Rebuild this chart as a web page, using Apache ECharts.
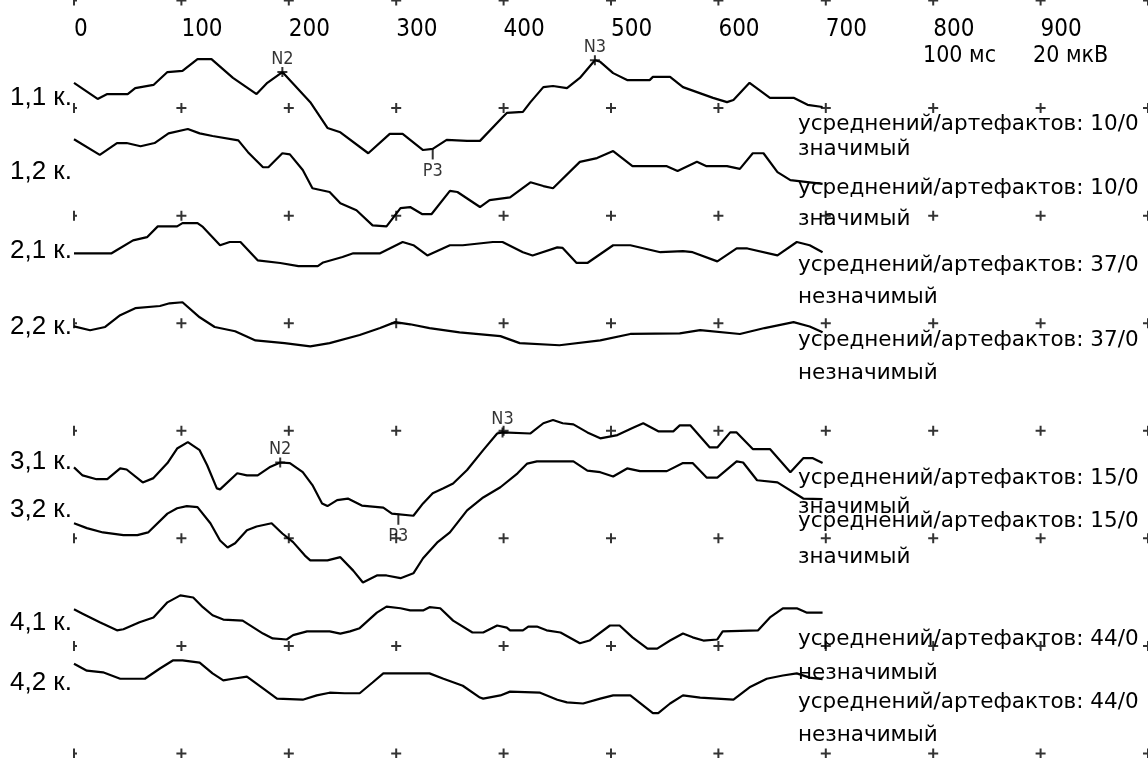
<!DOCTYPE html>
<html>
<head>
<meta charset="utf-8">
<title>ВП</title>
<script src="https://cdn.jsdelivr.net/npm/echarts@6/dist/echarts.min.js"></script>
<style>
  body { margin: 0; background: #fff; }
  #main { width: 1148px; height: 758px; }
</style>
</head>
<body>
<div id="main"></div>
<script>
// time axis, ms
var xTicks = [0, 100, 200, 300, 400, 500, 600, 700, 800, 900];
// each grid cell = 100 ms x 20 uV
var yTicks = [0, 20, 40, 60, 80, 100, 120, 140];

var channelNames = ['1,1 к.', '1,2 к.', '2,1 к.', '2,2 к.', '3,1 к.', '3,2 к.', '4,1 к.', '4,2 к.'];
// baseline of each trace on the uV axis
var channelOffsets = [122, 108, 93, 79, 54, 45, 24, 13];
var averages = ['10/0', '10/0', '37/0', '37/0', '15/0', '15/0', '44/0', '44/0'];
var verdicts = ['значимый', 'значимый', 'незначимый', 'незначимый', 'значимый', 'значимый', 'незначимый', 'незначимый'];

// [ms, uV]
var ch11 = [[0,2.7],[22,-0.3],[31,0.6],[50,0.6],[57,1.7],[74,2.3],[87,4.7],[101,4.9],[115,7.1],[128,7.1],[148,3.6],[170,0.6],[180,2.7],[194,4.7],[220,-0.9],[236,-5.7],[248,-6.5],[274,-10.4],[294,-6.8],[306,-6.8],[325,-9.8],[334,-9.6],[347,-7.9],[366,-8.1],[378,-8.1],[399,-3.7],[403,-2.9],[418,-2.7],[425,-0.9],[437,1.9],[446,2.1],[459,1.7],[471,3.6],[485,6.9],[490,6.6],[502,4.5],[515,3.2],[536,3.2],[539,3.8],[555,3.8],[567,1.9],[595,-0.1],[608,-0.9],[614,-0.5],[629,2.7],[648,-0.1],[670,-0.1],[683,-1.4],[697,-1.8]];
var ch12 = [[0,6.2],[24,3.3],[40,5.5],[49,5.5],[62,4.9],[75,5.5],[88,7.3],[106,8.1],[117,7.3],[129,6.8],[153,6.0],[162,3.8],[176,1.0],[181,1.0],[194,3.6],[201,3.4],[213,0.5],[222,-2.9],[238,-3.6],[248,-5.7],[263,-7.0],[278,-9.8],[291,-10.0],[304,-6.6],[313,-6.4],[324,-7.7],[333,-7.7],[350,-3.4],[357,-3.6],[378,-6.4],[387,-5.1],[406,-4.6],[425,-1.8],[437,-2.5],[446,-2.9],[471,2.0],[487,2.7],[502,4.0],[520,1.2],[552,1.2],[562,0.3],[580,2.0],[589,1.2],[608,1.2],[620,0.7],[632,3.6],[642,3.6],[655,0.1],[667,-1.4],[697,-2.1]];
var ch21 = [[0,0.0],[35,0.0],[40,0.6],[55,2.4],[68,3.0],[78,5.0],[96,5.0],[101,5.6],[115,5.6],[120,4.9],[136,1.5],[145,2.1],[155,2.1],[171,-1.3],[192,-1.8],[209,-2.4],[227,-2.4],[232,-1.7],[250,-0.7],[260,0.0],[285,0.0],[306,2.1],[316,1.5],[329,-0.4],[350,1.5],[362,1.5],[390,2.1],[399,2.1],[418,0.2],[427,-0.4],[450,1.1],[455,1.0],[468,-1.8],[478,-1.8],[502,1.5],[518,1.5],[546,0.2],[567,0.4],[576,0.2],[599,-1.5],[617,0.9],[627,0.9],[655,-0.4],[673,2.1],[685,1.5],[697,0.2]];
var ch22 = [[0,0.4],[15,-0.3],[29,0.3],[43,2.5],[57,3.8],[80,4.2],[89,4.7],[101,4.9],[117,2.1],[131,0.3],[150,-0.5],[169,-2.2],[196,-2.7],[220,-3.3],[238,-2.7],[266,-1.2],[285,0.1],[299,1.2],[313,0.8],[331,0.1],[359,-0.7],[397,-1.4],[415,-2.7],[452,-3.1],[490,-2.2],[518,-1.0],[564,-0.9],[583,-0.3],[620,-1.0],[643,0.1],[670,1.2],[685,0.4],[697,-0.7]];
var ch31 = [[0,-0.8],[8,-2.3],[21,-3.0],[31,-3.0],[43,-1.0],[49,-1.2],[64,-3.6],[74,-2.8],[87,0.0],[96,2.7],[106,3.9],[117,2.4],[124,-0.4],[133,-4.7],[136,-4.9],[152,-1.9],[161,-2.3],[171,-2.3],[182,-0.8],[192,0.1],[201,0.0],[213,-1.7],[222,-4.1],[231,-7.5],[236,-8.0],[245,-6.9],[255,-6.6],[268,-7.9],[288,-8.3],[296,-9.4],[316,-9.8],[325,-7.5],[334,-5.6],[344,-4.7],[353,-3.8],[366,-1.3],[381,2.4],[394,5.5],[399,5.7],[425,5.5],[437,7.4],[446,8.0],[455,7.4],[465,7.2],[478,5.7],[490,4.6],[506,5.2],[521,6.6],[530,7.4],[544,5.9],[558,5.9],[564,7.0],[574,7.0],[592,2.9],[599,2.9],[611,5.7],[617,5.7],[632,2.6],[648,2.6],[667,-1.7],[679,0.9],[688,0.9],[697,0.0]];
var ch32 = [[0,-2.2],[12,-3.1],[27,-3.9],[46,-4.4],[59,-4.4],[69,-3.9],[87,-0.4],[96,0.6],[105,1.0],[115,0.8],[127,-2.2],[136,-5.4],[143,-6.7],[150,-5.9],[161,-3.5],[170,-2.8],[184,-2.2],[194,-4.1],[204,-5.7],[215,-8.2],[220,-9.1],[236,-9.1],[248,-8.5],[260,-11.0],[269,-13.2],[282,-11.9],[291,-11.9],[304,-12.4],[316,-11.5],[325,-8.7],[338,-5.8],[350,-3.9],[366,0.2],[381,2.6],[397,4.5],[413,7.1],[422,8.9],[431,9.3],[465,9.3],[478,7.6],[490,7.3],[502,6.5],[515,8.0],[527,7.5],[552,7.5],[567,9.0],[576,9.0],[589,6.3],[599,6.3],[617,9.3],[623,9.1],[636,5.8],[655,5.4],[679,2.4],[697,2.3]];
var ch41 = [[0,2.8],[8,2.0],[24,0.4],[40,-1.1],[46,-0.9],[61,0.4],[74,1.3],[87,4.1],[99,5.4],[111,5.0],[120,3.2],[129,1.7],[139,0.9],[157,0.7],[176,-1.7],[185,-2.6],[198,-2.8],[204,-2.0],[217,-1.3],[238,-1.3],[248,-1.7],[257,-1.3],[266,-0.7],[282,2.2],[291,3.3],[304,3.0],[313,2.6],[325,2.6],[331,3.2],[341,3.0],[353,0.7],[371,-1.5],[381,-1.5],[394,-0.2],[403,-0.6],[406,-1.1],[418,-1.1],[423,-0.4],[431,-0.4],[440,-1.1],[453,-1.5],[471,-3.5],[480,-3.0],[499,-0.2],[508,-0.2],[520,-2.4],[534,-4.5],[543,-4.5],[555,-3.0],[567,-1.7],[576,-2.4],[586,-3.0],[599,-2.8],[604,-1.3],[637,-1.1],[648,1.3],[660,3.0],[673,3.0],[682,2.2],[697,2.2]];
var ch42 = [[0,3.7],[12,2.4],[27,2.1],[43,0.9],[66,0.9],[80,2.8],[92,4.3],[101,4.3],[117,3.9],[129,1.9],[139,0.6],[148,0.9],[161,1.3],[176,-0.9],[189,-2.8],[213,-3.0],[226,-2.2],[238,-1.7],[252,-1.8],[266,-1.8],[278,0.2],[288,1.9],[316,1.9],[331,1.9],[344,0.9],[362,-0.4],[378,-2.6],[381,-2.8],[397,-2.2],[406,-1.5],[434,-1.7],[450,-3.0],[459,-3.5],[474,-3.7],[490,-2.8],[502,-2.2],[518,-2.2],[539,-5.5],[544,-5.5],[555,-3.7],[567,-2.2],[583,-2.6],[614,-3.0],[629,-0.7],[645,0.9],[660,1.5],[673,1.9],[685,1.1],[697,0.8]];
var channels = [ch11, ch12, ch21, ch22, ch31, ch32, ch41, ch42];

// peak marks: channel index, latency ms, name
var peakChannel = [0, 0, 0, 4, 4, 4];
var peakLatency = [194, 334, 485, 192, 302, 399];
var peakName = ['N2', 'P3', 'N3', 'N2', 'P3', 'N3'];

// layout of the side texts (pixel rows)
var labelRows = [98, 172, 251, 327, 462, 510, 623, 683];
var noteRows = [[124, 149], [188, 219], [265, 297], [340, 373], [478, 507], [521, 557], [639, 673], [702, 735]];

function valueAt(trace, ms) {
  for (var i = 1; i < trace.length; i++) {
    if (trace[i][0] >= ms) {
      var a = trace[i - 1], b = trace[i];
      var t = (ms - a[0]) / (b[0] - a[0] || 1);
      return a[1] + t * (b[1] - a[1]);
    }
  }
  return trace[trace.length - 1][1];
}

var plusPath = 'path://M0,4H10V6H0Z M4,0H6V10H4Z';
var halfPlusPath = 'path://M0,0H2V10H0Z M0,4H4V6H0Z';

var gridMarks = [], edgeMarks = [];
xTicks.concat([1000]).forEach(function (x) {
  yTicks.forEach(function (y) {
    if (x === 0) edgeMarks.push([x, y]); else gridMarks.push([x, y]);
  });
});

var series = [];
channels.forEach(function (trace, i) {
  series.push({
    type: 'line',
    data: trace.map(function (p) { return [p[0], channelOffsets[i] + p[1]]; }),
    showSymbol: false,
    lineStyle: { color: '#000', width: 2.2 },
    z: 3
  });
});
series.push({
  type: 'scatter', data: gridMarks, symbol: plusPath, symbolSize: 10,
  itemStyle: { color: '#000' }, z: 2, silent: true
});
series.push({
  type: 'scatter', data: edgeMarks, symbol: halfPlusPath, symbolSize: [4, 10],
  symbolOffset: [1, 0], itemStyle: { color: '#000' }, z: 2, silent: true
});

var nData = [], pData = [];
peakName.forEach(function (name, k) {
  var c = peakChannel[k];
  var pt = { name: name, value: [peakLatency[k], channelOffsets[c] + valueAt(channels[c], peakLatency[k])] };
  if (name.charAt(0) === 'N') nData.push(pt); else pData.push(pt);
});
var markFont = "'DejaVu Sans Condensed','Liberation Sans Narrow','Liberation Sans',sans-serif";
series.push({
  type: 'scatter', data: nData, symbol: plusPath, symbolSize: 10,
  itemStyle: { color: '#000' }, z: 4,
  label: { show: true, position: 'top', distance: -1, formatter: '{b}', color: '#000', fontSize: 18, fontFamily: markFont }
});
series.push({
  type: 'scatter', data: pData, symbol: 'rect', symbolSize: [2, 11], symbolOffset: [0, 5],
  itemStyle: { color: '#000' }, z: 4,
  label: { show: true, position: 'bottom', distance: 3, formatter: '{b}', color: '#000', fontSize: 18, fontFamily: markFont }
});

var graphics = [];
var labelFont = "26px 'Liberation Sans', Arial, sans-serif";
channelNames.forEach(function (name, i) {
  graphics.push({ type: 'text', x: 10, y: labelRows[i], z: 5,
    style: { text: name, font: labelFont, fill: '#000', textVerticalAlign: 'middle' } });
});
var noteFont = "21.5px 'DejaVu Sans', sans-serif";
averages.forEach(function (a, i) {
  graphics.push({ type: 'text', x: 798, y: noteRows[i][0], z: 5,
    style: { text: 'усреднений/артефактов: ' + a, font: noteFont, fill: '#000', textVerticalAlign: 'middle' } });
  graphics.push({ type: 'text', x: 798, y: noteRows[i][1], z: 5,
    style: { text: verdicts[i], font: noteFont, fill: '#000', textVerticalAlign: 'middle' } });
});
var scaleFont = "23px 'DejaVu Sans Condensed','Liberation Sans Narrow','Liberation Sans',sans-serif";
graphics.push({ type: 'text', x: 923, y: 56, style: { text: '100 мс', font: scaleFont, fill: '#000', textVerticalAlign: 'middle' } });
graphics.push({ type: 'text', x: 1033, y: 56, style: { text: '20 мкВ', font: scaleFont, fill: '#000', textVerticalAlign: 'middle' } });

var myChart = echarts.init(document.getElementById('main'));
var option = {
  animation: false,
  backgroundColor: '#fff',
  grid: { left: 74, right: 0, top: 0.5, bottom: 4.5 },
  xAxis: {
    type: 'value', position: 'top', min: 0, max: 1000, interval: 100,
    axisLine: { show: false }, axisTick: { show: false }, splitLine: { show: false },
    axisLabel: {
      inside: true, margin: 29, align: 'left', verticalAlign: 'middle', showMaxLabel: false,
      color: '#000', fontSize: 24,
      fontFamily: "'DejaVu Sans Condensed','Liberation Sans Narrow','Liberation Sans',sans-serif",
      formatter: function (v) { return xTicks.indexOf(v) >= 0 ? String(v) : ''; }
    }
  },
  yAxis: {
    type: 'value', min: 0, max: 140, interval: 20, show: false, splitLine: { show: false }
  },
  graphic: graphics,
  series: series
};
myChart.setOption(option);
</script>
</body>
</html>
